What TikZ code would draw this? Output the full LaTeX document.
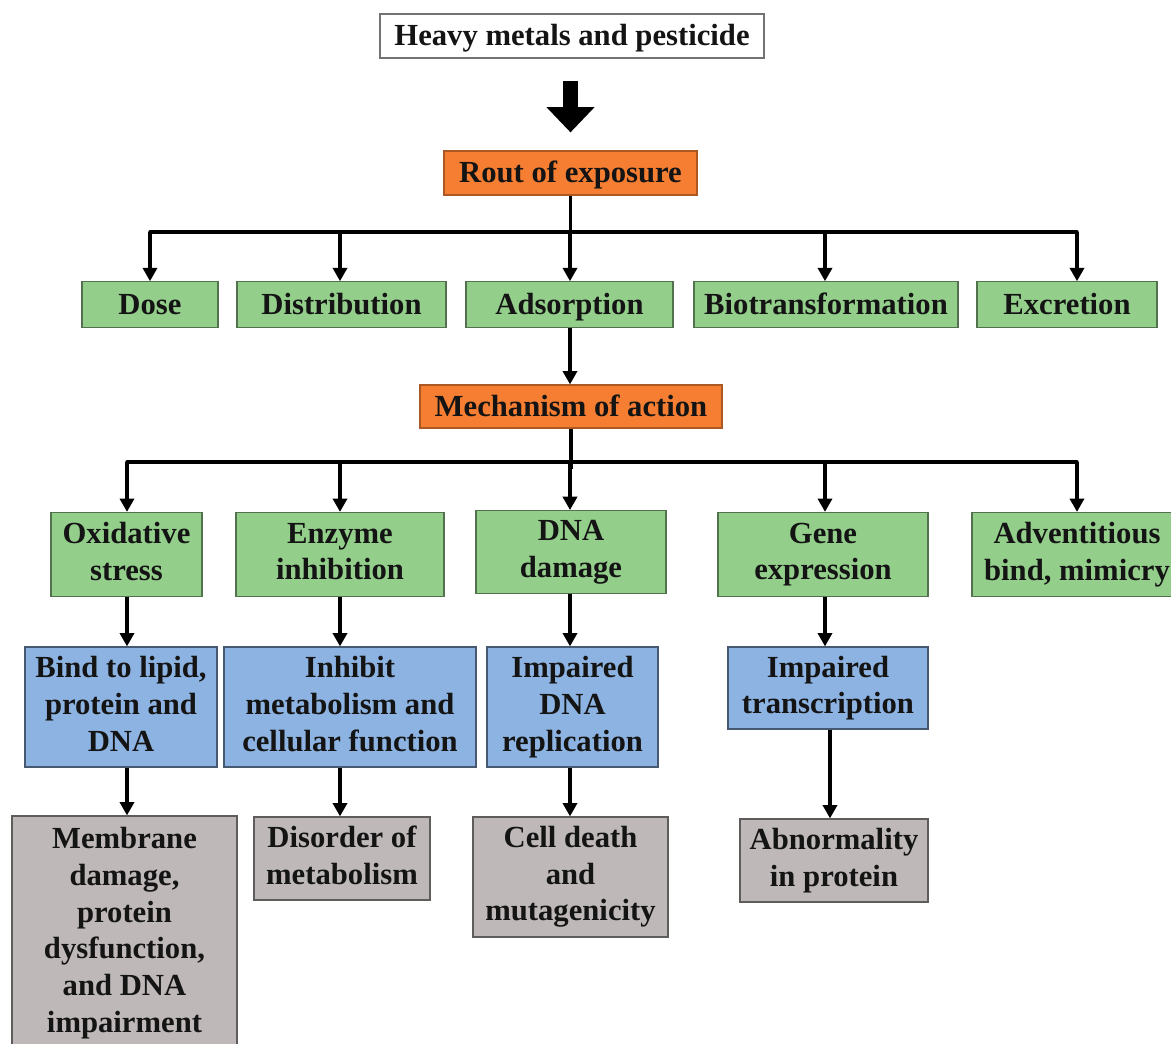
\documentclass[tikz,border=0pt]{standalone}
\usepackage{fontspec}
\setmainfont{Liberation Serif}
\usepackage{tikz}
\usetikzlibrary{arrows}
\usetikzlibrary{arrows.meta}
\definecolor{routOrange}{RGB}{245,126,50}
\definecolor{stepGreen}{RGB}{147,207,139}
\definecolor{effectBlue}{RGB}{141,179,226}
\definecolor{outcomeGray}{RGB}{190,184,184}
\newcommand{\boxStrut}{\rule[-4.6pt]{0pt}{24pt}}
\tikzset{
    box/.style={draw=black!55, line width=0.9pt, align=center, inner sep=0pt,
                text=black!92, font=\bfseries\fontsize{23}{27.5}\selectfont,
                execute at begin node=\boxStrut, execute at end node=\boxStrut},
    orangebox/.style={box, fill=routOrange, draw=routOrange!70!black},
    greenbox/.style={box, fill=stepGreen, draw=stepGreen!55!black},
    bluebox/.style={box, fill=effectBlue, draw=effectBlue!50!black},
    graybox/.style={box, fill=outcomeGray, draw=outcomeGray!50!black},
  }

\begin{document}
\begin{tikzpicture}[x=0.75pt,y=-0.75pt,->,>={Triangle[length=10pt,width=10.5pt]},line width=2.6pt]
  \clip (0,0) rectangle (1171,1043);
  % source and route
  \node[box, fill=white, minimum width=288pt, minimum height=33pt] (heavy) at (572,36) {Heavy metals and pesticide};
  \node[orangebox, minimum width=189.75pt, minimum height=33pt] (rout) at (570.5,173) {Rout of exposure};
  \draw[-{Triangle[length=19pt,width=35pt]}, line width=11pt, shorten <=16.5pt, shorten >=13.5pt] (heavy.south -| rout) -- (rout.north);

  % first level
  \node[greenbox, minimum width=102pt, minimum height=34pt] (dose) at (150,304.5) {Dose};
  \node[greenbox, minimum width=156.75pt, minimum height=34pt] (distr) at (341.5,304.5) {Distribution};
  \node[greenbox, minimum width=155.25pt, minimum height=34pt] (adsorp) at (569.5,304.5) {Adsorption};
  \node[greenbox, minimum width=198pt, minimum height=34pt] (biotrans) at (826,304.5) {Biotransformation};
  \node[greenbox, minimum width=135pt, minimum height=34pt] (excret) at (1067,304.5) {Excretion};

  \coordinate (b11) at (150,232);
  \coordinate (b12) at (340,232);
  \coordinate (b13) at (570,232);
  \coordinate (b14) at (825,232);
  \coordinate (b15) at (1077,232);
  \draw[-] (rout.south) -- ++(0,42);
  \draw[-, line cap=round] (b11) -- (b15);
  \foreach \b/\n in {b11/dose,b12/distr,b13/adsorp,b14/biotrans,b15/excret}
    \draw (\b) -- (\b |- \n.north);

  \node[orangebox, minimum width=226.5pt, minimum height=32.25pt] (mech) at (571,406.5) {Mechanism of action};
  \draw (adsorp.south -| b13) -- (b13 |- mech.north);

  % mechanisms
  \node[greenbox, minimum width=113.25pt, minimum height=63pt] (oxid) at (126.5,554.5) {Oxidative\\stress};
  \node[greenbox, minimum width=156pt, minimum height=63pt] (enzyme) at (340,554.5) {Enzyme\\inhibition};
  \node[greenbox, minimum width=142.5pt, minimum height=62pt] (dnadmg) at (571,552) {DNA\\damage};
  \node[greenbox, minimum width=157.5pt, minimum height=63pt] (gene) at (823,554.5) {Gene\\expression};
  \node[greenbox, minimum width=157.5pt, minimum height=63pt] (advent) at (1077,554.5) {Adventitious\\bind, mimicry};

  \coordinate (b21) at (127,462);
  \coordinate (b22) at (340,462);
  \coordinate (b23) at (570,462);
  \coordinate (b24) at (825,462);
  \coordinate (b25) at (1077,462);
  \draw[-] (mech.south) -- ++(0,40);
  \draw[-, line cap=round] (b21) -- (b25);
  \foreach \b/\n in {b21/oxid,b22/enzyme,b23/dnadmg,b24/gene,b25/advent}
    \draw (\b) -- (\b |- \n.north);

  % effects
  \node[bluebox, minimum width=144pt, minimum height=90pt] (bind) at (121,707) {Bind to lipid,\\protein and\\DNA};
  \node[bluebox, minimum width=189pt, minimum height=90pt] (inhibit) at (350,707) {Inhibit\\metabolism and\\cellular function};
  \node[bluebox, minimum width=128.25pt, minimum height=90pt] (impdna) at (572.5,707) {Impaired\\DNA\\replication};
  \node[bluebox, minimum width=150pt, minimum height=61.5pt] (imptrans) at (828,688) {Impaired\\transcription};

  \draw (b21 |- oxid.south) -- (b21 |- bind.north);
  \draw (b22 |- enzyme.south) -- (b22 |- inhibit.north);
  \draw (b23 |- dnadmg.south) -- (b23 |- impdna.north);
  \draw (b24 |- gene.south) -- (b24 |- imptrans.north);

  % outcomes
  \node[graybox, minimum width=168.75pt, minimum height=175.5pt] (membrane) at (124.5,933) {Membrane\\damage,\\protein\\dysfunction,\\and DNA\\impairment};
  \node[graybox, minimum width=132pt, minimum height=62.25pt] (disorder) at (342,858.5) {Disorder of\\metabolism};
  \node[graybox, minimum width=146.25pt, minimum height=90pt] (celldeath) at (570.5,877) {Cell death\\and\\mutagenicity};
  \node[graybox, minimum width=141pt, minimum height=62.25pt] (abnorm) at (834,860.5) {Abnormality\\in protein};

  \draw (b21 |- bind.south) -- (b21 |- membrane.north);
  \draw (b22 |- inhibit.south) -- (b22 |- disorder.north);
  \draw (b23 |- impdna.south) -- (b23 |- celldeath.north);
  \draw (830,0 |- imptrans.south) -- (830,0 |- abnorm.north);
\end{tikzpicture}
\end{document}
